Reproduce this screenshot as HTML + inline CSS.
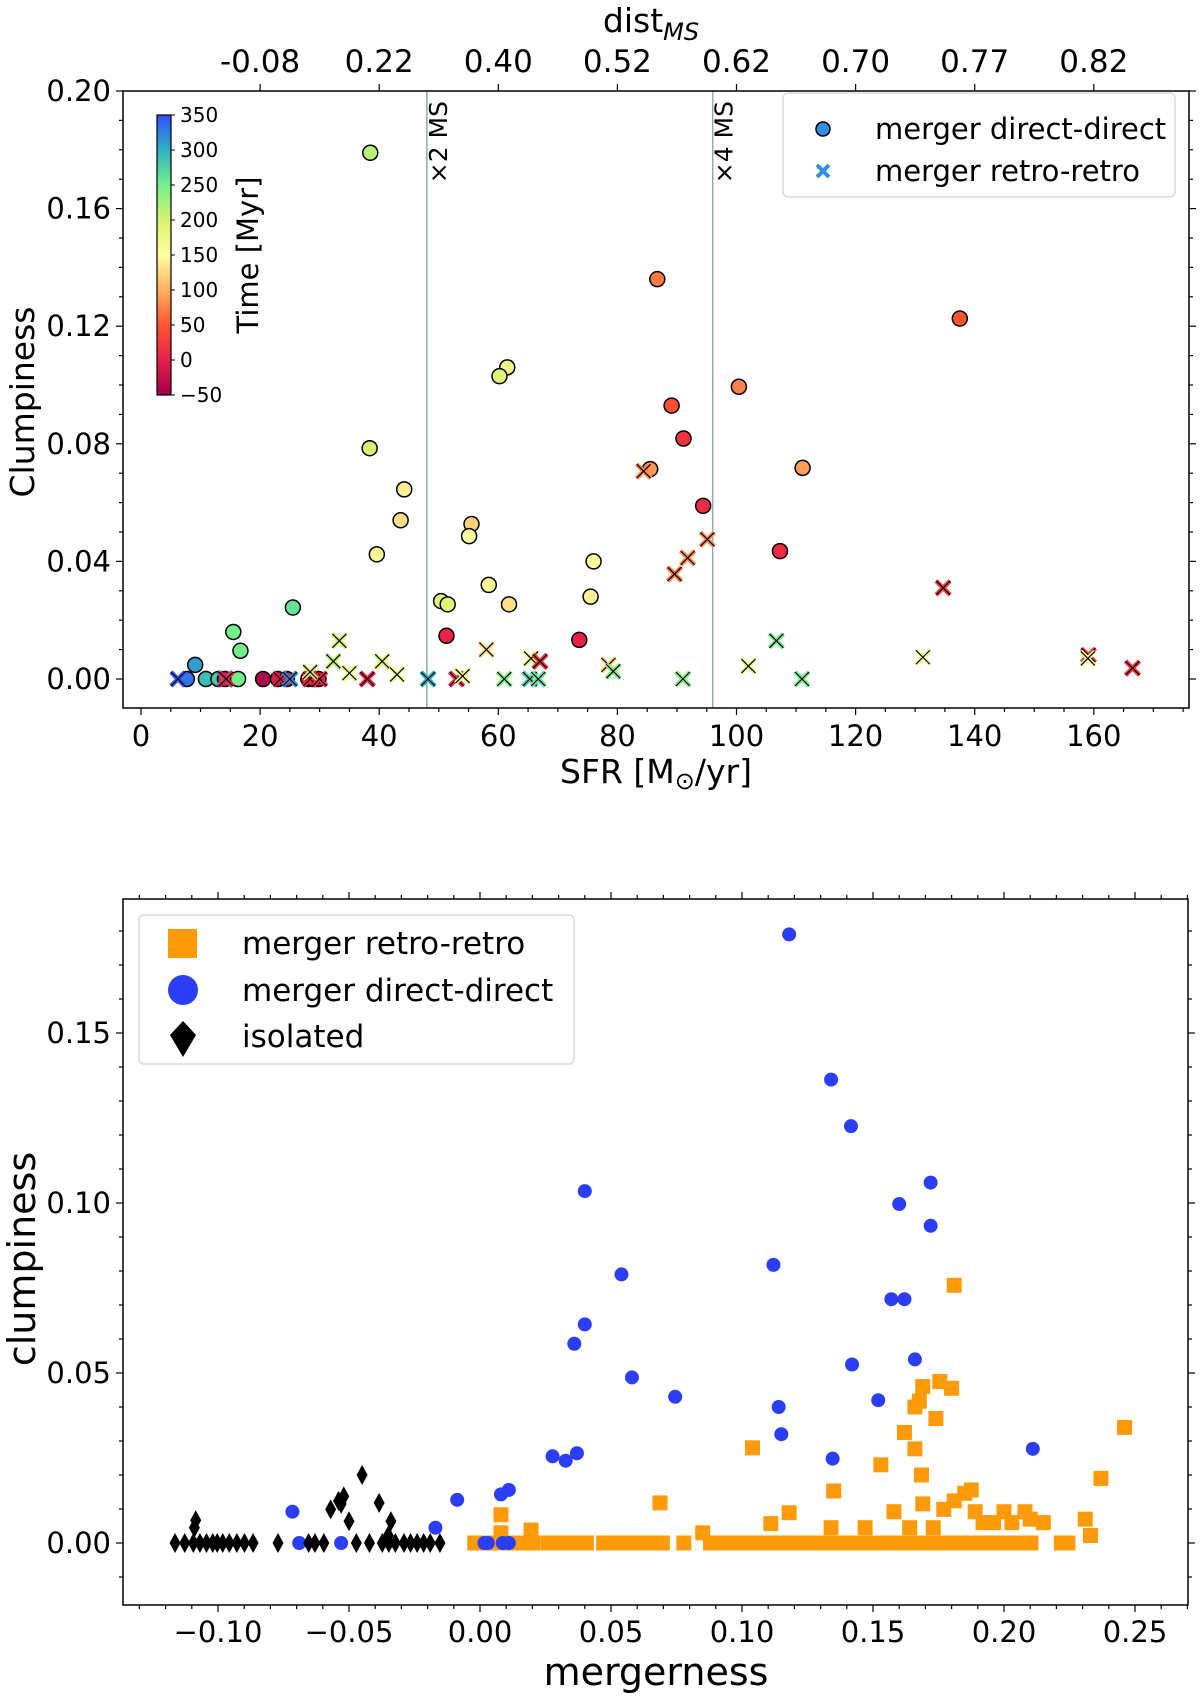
<!DOCTYPE html>
<html><head><meta charset="utf-8">
<style>
html,body{margin:0;padding:0;background:#fff;}
svg text{font-family:"DejaVu Sans","Liberation Sans",sans-serif;fill:#000;}
</style></head>
<body>
<svg id="fig" width="1200" height="1699" viewBox="0 0 1200 1699" xmlns="http://www.w3.org/2000/svg"></svg>
<script>
// ---------- TOP CHART DATA ----------
const sfrDD   = [38.5,86.7,137.5,61.5,60.2,100.4,89.1,38.4,91.1,111.1,85.5,44.2,43.6,94.4,55.5,55.1,39.6,76,107.3,58.4,50.4,51.5,75.5,61.8,25.5,15.5,16.7,51.3,73.6,9.1,7.7,10.9,13.0,14.1,16.3,20.5,23.0,24.5,28.1,29.8,28.9];
const clumpDD = [0.179,0.136,0.1226,0.106,0.103,0.0994,0.093,0.0785,0.0818,0.0718,0.0714,0.0645,0.054,0.0589,0.0527,0.0486,0.0424,0.040,0.0435,0.032,0.0265,0.0254,0.028,0.0254,0.0243,0.016,0.0096,0.0147,0.0133,0.0048,0,0,0,0,0,0,0,0,0,0,0];
const timeDD  = [215,70,50,170,190,75,45,200,20,90,85,140,130,10,120,150,160,150,10,160,180,190,140,130,260,250,250,0,0,310,330,290,280,-10,250,-40,-10,-10,0,0,-5];
const sfrRR   = [6.2,14.1,14.3,23.4,25,28.4,30,28.4,33.3,32.3,35,38,40.5,43,48.2,53,54,58,61,65.5,67,65.3,66.7,78.5,79.3,91,102,106.7,111,131.3,159.1,159,166.5,84.4,89.6,91.8,95.1,134.7];
const clumpRR = [0,0,0,0,0,0,0,0.0024,0.013,0.006,0.002,0,0.006,0.0015,0,0,0.001,0.010,0,0.007,0.006,0,0,0.0048,0.0026,0,0.0044,0.013,0,0.0074,0.0081,0.007,0.0037,0.0707,0.0357,0.0412,0.0475,0.031];
const timeRR  = [345,310,0,-10,320,0,0,190,200,210,180,0,190,170,300,10,170,130,240,180,20,280,260,120,240,240,170,250,250,160,30,160,20,80,70,80,80,30];
const sfrTicks = [0,20,40,60,80,100,120,140,160];
const clumpTicks = [0.00,0.04,0.08,0.12,0.16,0.20];
const distTickSfr = [20,40,60,80,100,120,140,160];
const distLabels = ["-0.08","0.22","0.40","0.52","0.62","0.70","0.77","0.82"];
const cbTicks = [-50,0,50,100,150,200,250,300,350];
const msLines = [48,96];
const msLabels = ["×2 MS","×4 MS"];

// ---------- BOTTOM CHART DATA ----------
const mergDD  = [0.118,0.134,0.1416,0.172,0.160,0.172,0.040,0.112,0.054,0.157,0.162,0.040,0.036,0.142,0.166,0.058,0.0745,0.152,0.114,0.115,0.211,0.0277,0.037,0.0327,0.1346,0.011,0.008,-0.0087,-0.0716,-0.017,-0.069,-0.053,0.0017,0.003,0.0087,0.011];
const clDD    = [0.179,0.1363,0.1226,0.106,0.0997,0.0933,0.1035,0.0818,0.079,0.0717,0.0717,0.0643,0.0586,0.0525,0.054,0.0487,0.043,0.042,0.040,0.032,0.0277,0.0255,0.0264,0.0242,0.0248,0.0156,0.0143,0.0127,0.0092,0.0045,0,0,0,0,0,0];
const mergRR  = [-0.002,0.0004,0.0054,0.0095,0.0145,0.0178,0.0203,0.0261,0.0282,0.0323,0.0364,0.0406,0.0472,0.0489,0.051,0.053,0.0551,0.0571,0.0592,0.0613,0.0633,0.0654,0.0675,0.0696,0.0778,0.088,0.0902,0.0944,0.0985,0.1027,0.1068,0.1089,0.111,0.113,0.1151,0.1172,0.1192,0.1213,0.1234,0.1254,0.1275,0.1296,0.1316,0.1337,0.1358,0.14,0.1441,0.1482,0.1503,0.1523,0.1565,0.1598,0.1627,0.1681,0.171,0.1731,0.1751,0.1772,0.1793,0.1813,0.1834,0.1855,0.1875,0.1896,0.1917,0.1937,0.1958,0.1979,0.2,0.202,0.2041,0.2061,0.2082,0.2103,0.2219,0.2244,
 0.181,0.1755,0.180,0.169,0.1677,0.166,0.174,0.162,0.166,0.104,0.246,0.237,0.153,0.1685,0.135,0.0687,0.0195,0.008,0.008,0.118,0.111,0.085,0.169,0.177,0.185,0.1875,0.181,0.189,0.192,0.196,0.2,0.203,0.208,0.21,0.215,0.231,0.233,0.147,0.134,0.158,0.164,0.173];
const clRR    = [0,0,0,0,0,0,0,0,0,0,0,0,0,0,0,0,0,0,0,0,0,0,0,0,0,0,0,0,0,0,0,0,0,0,0,0,0,0,0,0,0,0,0,0,0,0,0,0,0,0,0,0,0,0,0,0,0,0,0,0,0,0,0,0,0,0,0,0,0,0,0,0,0,0,0,0,
 0.0758,0.0475,0.0455,0.046,0.0417,0.040,0.0366,0.0325,0.0277,0.028,0.034,0.019,0.023,0.020,0.0153,0.0118,0.0038,0.0083,0.003,0.0089,0.0057,0.003,0.0115,0.0099,0.0146,0.0156,0.0124,0.0092,0.006,0.006,0.0092,0.006,0.0092,0.007,0.006,0.007,0.0022,0.0045,0.0045,0.0092,0.0045,0.0045];
const mergIso = [-0.1164,-0.1127,-0.1094,-0.1069,-0.1044,-0.102,-0.1003,-0.0982,-0.0957,-0.0928,-0.0899,-0.0866,-0.0771,-0.0654,-0.063,-0.0596,-0.0472,-0.0422,-0.0373,-0.0348,-0.0323,-0.029,-0.0265,-0.024,-0.0215,-0.019,-0.0153,
 -0.1085,-0.109,-0.054,-0.052,-0.053,-0.057,-0.045,-0.0385,-0.034,-0.050,-0.035];
const clIso   = [0,0,0,0,0,0,0,0,0,0,0,0,0,0,0,0,0,0,0,0,0,0,0,0,0,0,0,
 0.0067,0.0045,0.0124,0.0137,0.0115,0.0099,0.020,0.0118,0.0064,0.0064,0.0022];
const mergTicks = [-0.10,-0.05,0.00,0.05,0.10,0.15,0.20,0.25];
const clTicks = [0.00,0.05,0.10,0.15];

// ---------- helpers ----------
const NS="http://www.w3.org/2000/svg";
const svg=document.getElementById('fig');
function mk(tag,attrs,parent){const e=document.createElementNS(NS,tag);for(const k in attrs)e.setAttribute(k,attrs[k]);(parent||svg).appendChild(e);return e;}
function txt(s,x,y,size,anchor,parent){const t=mk('text',{x:x,y:y,'font-size':size,'text-anchor':anchor||'middle'},parent);t.textContent=s;return t;}
const cstops=[[-50,[160,0,80]],[0,[232,32,74]],[50,[255,85,50]],[100,[255,176,96]],[150,[255,255,160]],[200,[215,242,110]],[250,[115,240,140]],[300,[48,176,192]],[350,[50,80,255]]];
function cmap(v){for(let i=0;i<cstops.length-1;i++){const a=cstops[i],b=cstops[i+1];if(v<=b[0]||i==cstops.length-2){let f=(v-a[0])/(b[0]-a[0]);f=Math.max(0,Math.min(1,f));const c=a[1].map((q,j)=>Math.round(q+(b[1][j]-q)*f));return `rgb(${c[0]},${c[1]},${c[2]})`;}}}
function fmt(v,d){return (v<0?'\u2212':'')+Math.abs(v).toFixed(d);}

// ================= TOP CHART =================
const T={l:123,r:1189,t:91,b:708};
const xT=v=>141+v*5.955;
const yT=v=>679-v*2940;
const gTop=mk('g',{});


msLines.forEach((m,i)=>{
  const ln=mk('line',{x1:xT(m),x2:xT(m),y1:T.t,y2:T.b,stroke:'#9aa7a8','stroke-width':1.5},gTop);
  
  
  const t=txt(msLabels[i],0,0,25,'end',gTop);
  t.setAttribute('transform',`translate(${xT(m)+20},101) rotate(-90)`);
  
  
});
sfrDD.forEach((s,i)=>{
  const c=mk('circle',{cx:xT(s),cy:yT(clumpDD[i]),r:7.5,fill:cmap(timeDD[i]),stroke:'#000','stroke-width':1.5},gTop);
  
  
});
sfrRR.forEach((s,i)=>{
  const x=xT(s),y=yT(clumpRR[i]),d=7,col=cmap(timeRR[i]);
  const g=mk('g',{},gTop);
  
  
  mk('path',{d:`M${x-d} ${y-d}L${x+d} ${y+d}M${x-d} ${y+d}L${x+d} ${y-d}`,stroke:col,'stroke-width':4.5},g);
  mk('path',{d:`M${x-d} ${y-d}L${x+d} ${y+d}M${x-d} ${y+d}L${x+d} ${y-d}`,stroke:'#000','stroke-width':1.2},g);
});
const fT=mk('rect',{x:T.l,y:T.t,width:T.r-T.l,height:T.b-T.t,fill:'none',stroke:'#000','stroke-width':1.5},gTop);


for(let v=0;v<=175;v+=5){const x=xT(v);const maj=v%20==0;mk('line',{x1:x,x2:x,y1:T.b,y2:T.b+(maj?7:4),stroke:'#000','stroke-width':1.2},gTop);}
sfrTicks.forEach(v=>{const t=txt(String(v),xT(v),746,29,'middle',gTop);});
distTickSfr.forEach((v,i)=>{mk('line',{x1:xT(v),x2:xT(v),y1:T.t,y2:T.t-7,stroke:'#000','stroke-width':1.2},gTop);
 const t=txt(distLabels[i],xT(v),72,31,'middle',gTop);});
for(let k=0;k<=20;k++){const v=k/100;const y=yT(v);const maj=k%4==0;
 mk('line',{x1:T.l,x2:T.l-(maj?7:4),y1:y,y2:y,stroke:'#000','stroke-width':1.2},gTop);
 mk('line',{x1:T.r,x2:T.r+(maj?7:4),y1:y,y2:y,stroke:'#000','stroke-width':1.2},gTop);}
clumpTicks.forEach(v=>{const t=txt(v.toFixed(2),111,yT(v)+10,29,'end',gTop);});
const tsp=mk('text',{x:656,y:783,'font-size':33,'text-anchor':'middle'},gTop);


tsp.innerHTML='SFR [M<tspan font-size="24" dy="6">\u2299</tspan><tspan dy="-6">/yr]</tspan>';
const yt=mk('text',{'font-size':33,'text-anchor':'middle',transform:'translate(34,402) rotate(-90)'},gTop);
yt.textContent='Clumpiness';


const dt=mk('text',{x:651,y:32,'font-size':33,'text-anchor':'middle'},gTop);
dt.innerHTML='dist<tspan font-size="24" dy="8" font-style="italic">MS</tspan>';


const cb=mk('g',{},gTop);


const defs=mk('defs',{},svg);
const lg=mk('linearGradient',{id:'cbg',x1:0,y1:1,x2:0,y2:0},defs);
cstops.forEach(s=>mk('stop',{offset:(s[0]+50)/400,'stop-color':cmap(s[0])},lg));
const cbTop=115,cbBot=395;
const yCb=v=>cbBot-(v+50)/400*(cbBot-cbTop);
mk('rect',{x:157,y:cbTop,width:14,height:cbBot-cbTop,fill:'url(#cbg)',stroke:'#000','stroke-width':1.2},cb);
cbTicks.forEach(v=>{mk('line',{x1:171,x2:175,y1:yCb(v),y2:yCb(v),stroke:'#000','stroke-width':1},cb);
 const t=txt(fmt(v,0),180,yCb(v)+7,20,'start',cb);});
const cbt=mk('text',{'font-size':29,'text-anchor':'middle',transform:'translate(258,255) rotate(-90)'},cb);
cbt.textContent='Time [Myr]';


const lgT=mk('g',{},gTop);


mk('rect',{x:783,y:93,width:392,height:104,rx:5,fill:'#fff',stroke:'#d8dcdc','stroke-width':1.5},lgT);
mk('circle',{cx:823,cy:129,r:7,fill:'#2f8fea',stroke:'#000','stroke-width':1.5},lgT);
mk('path',{d:'M817 165L829 177M817 177L829 165',stroke:'#2f8fea','stroke-width':4},lgT);
let l1=txt('merger direct-direct',875,139,29,'start',lgT);
let l2=txt('merger retro-retro',875,181,29,'start',lgT);

// ================= BOTTOM CHART =================
const B={l:123,r:1188,t:899,b:1605};
const xB=v=>480+v*2620;
const yB=v=>1543-v*3400;
const gB=mk('g',{});


mergRR.forEach((m,i)=>{const s=mk('rect',{x:xB(m)-7.5,y:yB(clRR[i])-7.5,width:15,height:15,fill:'#ff9b0a'},gB);
 });
mergDD.forEach((m,i)=>{const c=mk('circle',{cx:xB(m),cy:yB(clDD[i]),r:7,fill:'#2b3ef5'},gB);
 });
mergIso.forEach((m,i)=>{const x=xB(m),y=yB(clIso[i]);const d=mk('path',{d:`M${x} ${y-10}L${x+5.5} ${y}L${x} ${y+10}L${x-5.5} ${y}Z`,fill:'#000'},gB);
 });
const fB=mk('rect',{x:B.l,y:B.t,width:B.r-B.l,height:B.b-B.t,fill:'none',stroke:'#000','stroke-width':1.5},gB);


for(let k=-13;k<=27;k++){const x=xB(k/100);if(x<B.l||x>B.r)continue;const maj=k%5==0;
 mk('line',{x1:x,x2:x,y1:B.b,y2:B.b+(maj?7:4),stroke:'#000','stroke-width':1.2},gB);
 mk('line',{x1:x,x2:x,y1:B.t,y2:B.t-(maj?7:4),stroke:'#000','stroke-width':1.2},gB);}
for(let k=-1;k<=18;k++){const y=yB(k/100);if(y<B.t||y>B.b)continue;const maj=k%5==0;
 mk('line',{x1:B.l,x2:B.l-(maj?7:4),y1:y,y2:y,stroke:'#000','stroke-width':1.2},gB);
 mk('line',{x1:B.r,x2:B.r+(maj?7:4),y1:y,y2:y,stroke:'#000','stroke-width':1.2},gB);}
mergTicks.forEach(v=>{const t=txt(fmt(v,2),xB(v),1642,29,'middle',gB);});
clTicks.forEach(v=>{const t=txt(v.toFixed(2),111,yB(v)+10,29,'end',gB);});
const bx=txt('mergerness',656,1685,38,'middle',gB);
const by=mk('text',{'font-size':38,'text-anchor':'middle',transform:'translate(35,1259) rotate(-90)'},gB);
by.textContent='clumpiness';


const lgB=mk('g',{},gB);


mk('rect',{x:139,y:915,width:435,height:149,rx:5,fill:'#fff',stroke:'#d8dcdc','stroke-width':1.5},lgB);
mk('rect',{x:168,y:929,width:29,height:29,fill:'#ff9b0a'},lgB);
mk('circle',{cx:183,cy:990,r:15,fill:'#2b3ef5'},lgB);
mk('path',{d:'M183 1021L196 1035L183 1057L170 1035Z',fill:'#000'},lgB);
let b1=txt('merger retro-retro',242,954,31,'start',lgB);
let b2=txt('merger direct-direct',242,1001,31,'start',lgB);
let b3=txt('isolated',242,1047,31,'start',lgB);
</script>
</body></html>
